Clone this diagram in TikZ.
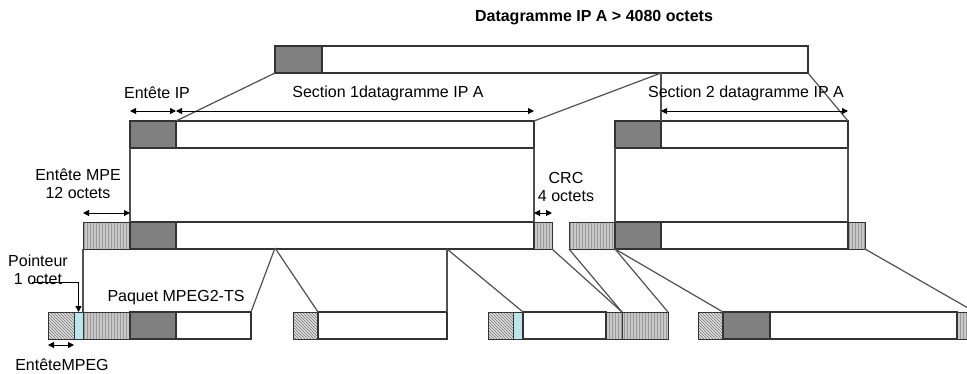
\documentclass[tikz,border=0pt]{standalone}
\usepackage{fontspec}
\setmainfont{Liberation Sans}
\usepackage{tikz}
\usetikzlibrary{arrows.meta}
\usetikzlibrary{patterns}

\definecolor{edgegray}{HTML}{333333}
\definecolor{linkgray}{HTML}{505050}
\definecolor{hdrgray}{HTML}{808080}
\definecolor{stripegray}{HTML}{C8C8C8}
\definecolor{hatchgray}{HTML}{E0E0E0}
\definecolor{ptrcyan}{HTML}{B8E6EA}

\tikzset{
  blk/.style={draw=edgegray, line width=1.5pt, minimum height=27pt, inner sep=0pt, outer sep=0pt, anchor=north west},
  iphdr/.style={blk, fill=hdrgray},
  payload/.style={blk, fill=white},
  mpehdr/.style={blk, line width=0.8pt, preaction={fill=stripegray}, pattern=vertical lines, pattern color=gray!80},
  crcblk/.style={mpehdr},
  tshdr/.style={blk, line width=0.8pt, preaction={fill=hatchgray}, pattern=north west lines, pattern color=gray!90!black},
  ptrblk/.style={blk, line width=1pt, fill=ptrcyan},
  link/.style={draw=linkgray, line width=1.2pt},
  dim/.style={{Triangle[length=6pt,width=6pt]}-{Triangle[length=6pt,width=6pt]}, line width=1pt},
  lbl/.style={inner sep=1pt, align=center}
}

\begin{document}
\begin{tikzpicture}[x=1pt, y=-1pt, font=\fontsize{16}{18}\selectfont]

\clip (0,0) rectangle (967,373);

% title
\node[font=\bfseries\fontsize{16}{18}\selectfont] (title) at (594,18) {Datagramme IP A > 4080 octets};

% IP datagram
\node[iphdr, minimum width=47pt] (dgHdr) at (275,46) {};
\node[payload, minimum width=486pt] (dgData) at (322,46) {};

% IP sections
\node[iphdr, minimum width=46pt] (s1Hdr) at (130,121) {};
\node[payload, minimum width=358pt] (s1Data) at (176,121) {};
\node[iphdr, minimum width=46pt] (s2Hdr) at (615,121) {};
\node[payload, minimum width=187pt] (s2Data) at (661,121) {};

% MPE sections
\node[mpehdr, minimum width=47pt] (mpeA) at (83,222) {};
\node[iphdr, minimum width=46pt] (ipA) at (130,222) {};
\node[payload, minimum width=358pt] (dataA) at (176,222) {};
\node[crcblk, minimum width=18pt] (crcA) at (534,222) {};
\node[mpehdr, minimum width=46pt] (mpeB) at (569,222) {};
\node[iphdr, minimum width=46pt] (ipB) at (615,222) {};
\node[payload, minimum width=187pt] (dataB) at (661,222) {};
\node[crcblk, minimum width=17pt] (crcB) at (848,222) {};

% MPEG2-TS packets
\node[tshdr, minimum width=26pt] (ts1) at (48,312) {};
\node[ptrblk, minimum width=9pt] (ptr1) at (74,312) {};
\node[mpehdr, minimum width=47pt] (mpe1) at (83,312) {};
\node[iphdr, minimum width=46pt] (ip1) at (130,312) {};
\node[payload, minimum width=75pt] (pay1) at (176,312) {};

\node[tshdr, minimum width=25pt] (ts2) at (293,312) {};
\node[payload, minimum width=129pt] (pay2) at (318,312) {};

\node[tshdr, minimum width=25pt] (ts3) at (488,312) {};
\node[ptrblk, minimum width=10pt] (ptr3) at (513,312) {};
\node[payload, minimum width=83pt] (pay3) at (523,312) {};
\node[crcblk, minimum width=16pt] (crc3) at (606,312) {};
\node[mpehdr, minimum width=46pt] (mpe3) at (622,312) {};

\node[tshdr, minimum width=25pt] (ts4) at (698,312) {};
\node[iphdr, minimum width=47pt] (ip4) at (723,312) {};
\node[payload, minimum width=187pt] (pay4) at (770,312) {};
\node[crcblk, minimum width=18pt] (crc4) at (957,312) {};

% split points
\coordinate (cut1) at (dgData.south -| s2Hdr.north east);
\coordinate (cutA) at (275,248);
\coordinate (cutB) at (pay2.north east |- dataA.south);

% datagram -> sections
\draw[link] (dgHdr.south west) -- (s1Hdr.north east);
\draw[link] (cut1) -- (s1Data.north east);
\draw[link] (cut1) -- (s2Hdr.north east);
\draw[link] (dgData.south east) -- (s2Data.north east);

% sections -> MPE
\draw[link] (s1Hdr.south west) -- (ipA.north west);
\draw[link] (s1Data.south east) -- (dataA.north east);
\draw[link] (s2Hdr.south west) -- (ipB.north west);
\draw[link] (s2Data.south east) -- (dataB.north east);

% MPE -> packets
\draw[link] (mpeA.south west) -- (mpe1.north west);
\draw[link] (cutA) -- (pay1.north east);
\draw[link] (cutA) -- (pay2.north west);
\draw[link] (cutB) -- (pay2.north east);
\draw[link] (cutB) -- (pay3.north west);
\draw[link] (crcA.south east) -- (mpe3.north west);
\draw[link] (mpeB.south west) -- (mpe3.north west);
\draw[link] (ipB.south west) -- (mpe3.north east);
\draw[link] (ipB.south west) -- (ts4.north east);
\draw[link] (crcB.south east) -- (crc4.north east);

% dimensions
\draw[dim] ([yshift=10pt]s1Hdr.north west) -- ([yshift=10pt]s1Hdr.north east);
\draw[dim] ([yshift=10pt]s1Data.north west) -- ([yshift=10pt]s1Data.north east);
\draw[dim] ([yshift=10pt]s2Data.north west) -- ([yshift=10pt]s2Data.north east);
\draw[dim] ([yshift=9pt]mpeA.north west) -- ([yshift=9pt]mpeA.north east);
\draw[dim] ([yshift=9pt]crcA.north west) -- ([yshift=9pt]crcA.north east);
\draw[dim] ([yshift=-6pt]ts1.south west) -- ([yshift=-6pt]ts1.south east);

% labels
\node[lbl] (ipLbl) at (157,93) {Entête IP};
\node[lbl] (sec1Lbl) at (388,93) {Section 1datagramme IP A};
\node[lbl] (sec2Lbl) at (746,93) {Section 2 datagramme IP A};
\node[lbl] (mpeLbl) at (78,184) {Entête MPE\\12 octets};
\node[lbl] (crcLbl) at (566,187) {CRC\\4 octets};
\node[lbl] (ptrLbl) at (38,270) {Pointeur\\1 octet};
\node[lbl] (tsLbl) at (176,298) {Paquet MPEG2-TS};
\node[lbl] (tshLbl) at (62,365) {EntêteMPEG};

% pointer
\draw[-{Triangle[length=6pt,width=6pt]}, line width=1pt] ([xshift=-6pt,yshift=4pt]ptrLbl.south) -| (ptr1.north);

\end{tikzpicture}
\end{document}
